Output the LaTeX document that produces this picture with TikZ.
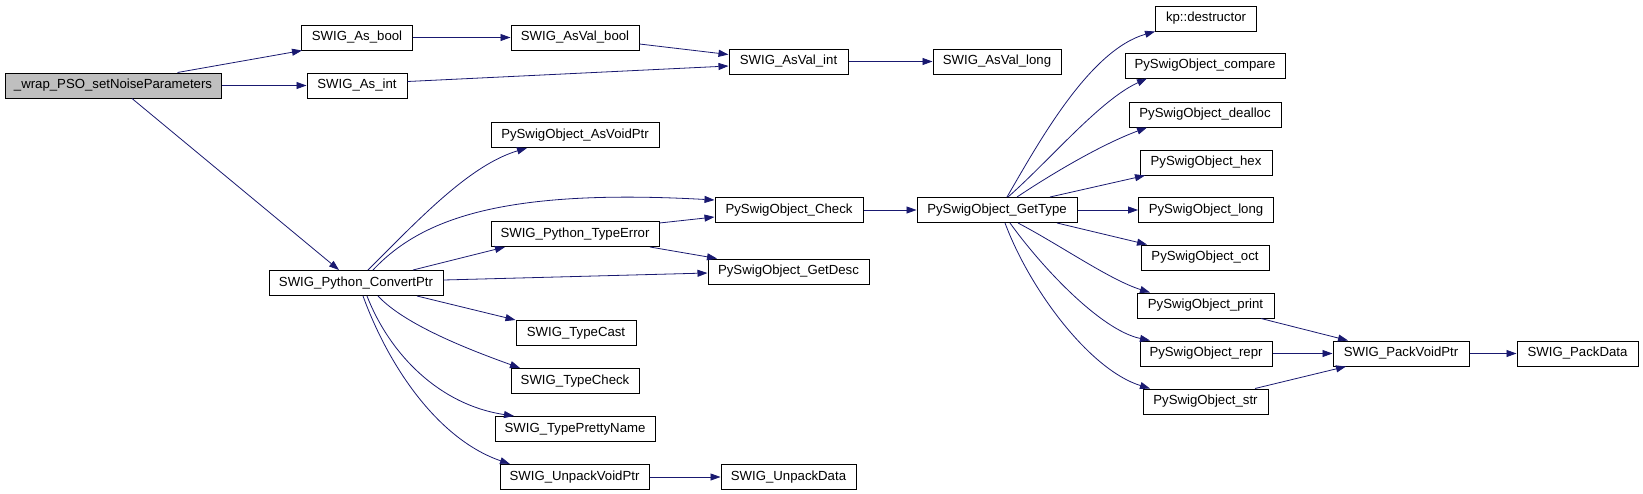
\documentclass[tikz,border=0pt]{standalone}
\usepackage{fontspec}
\setmainfont{Liberation Sans}
\usetikzlibrary{arrows.meta}
\definecolor{edgeblue}{RGB}{25,25,112}
\definecolor{mainfill}{RGB}{191,191,191}
\tikzset{
  box/.style={draw=black, line width=1pt, rectangle, inner sep=0pt, minimum height=25pt, fill=white,
    font=\fontsize{13.2}{15}\selectfont},
  mainbox/.style={box, fill=mainfill},
  edge/.style={draw=edgeblue, line width=0.8pt, -{Triangle[length=10pt,width=7pt]}},
}
\begin{document}
\begin{tikzpicture}[x=1pt,y=-1pt]
\useasboundingbox (0,0) rectangle (1643,493);
% nodes
\node[mainbox, minimum width=216pt] (main) at (113,85.5) {\_wrap\_PSO\_setNoiseParameters};
\node[box, minimum width=111pt] (asbool) at (357,37.5) {SWIG\_As\_bool};
\node[box, minimum width=100pt] (asint) at (357,85.5) {SWIG\_As\_int};
\node[box, minimum width=174pt] (cp) at (356,283) {SWIG\_Python\_ConvertPtr};
\node[box, minimum width=128pt] (avbool) at (575,37.5) {SWIG\_AsVal\_bool};
\node[box, minimum width=168pt] (avoid) at (575,135) {PySwigObject\_AsVoidPtr};
\node[box, minimum width=168pt] (terr) at (575,234) {SWIG\_Python\_TypeError};
\node[box, minimum width=120pt] (tcast) at (576,333) {SWIG\_TypeCast};
\node[box, minimum width=128pt] (tcheck) at (575,381) {SWIG\_TypeCheck};
\node[box, minimum width=160pt] (tpretty) at (575,429) {SWIG\_TypePrettyName};
\node[box, minimum width=149pt] (unpvp) at (574.5,477) {SWIG\_UnpackVoidPtr};
\node[box, minimum width=119pt] (avint) at (788.5,61.5) {SWIG\_AsVal\_int};
\node[box, minimum width=148pt] (check) at (789,210) {PySwigObject\_Check};
\node[box, minimum width=161pt] (desc) at (788.5,271.5) {PySwigObject\_GetDesc};
\node[box, minimum width=135pt] (unpd) at (788.5,477) {SWIG\_UnpackData};
\node[box, minimum width=128pt] (avlong) at (997,61.5) {SWIG\_AsVal\_long};
\node[box, minimum width=160pt] (gettype) at (997,210) {PySwigObject\_GetType};
\node[box, minimum width=101pt] (kpd) at (1206,18.5) {kp::destructor};
\node[box, minimum width=160pt] (cmp) at (1205,65.5) {PySwigObject\_compare};
\node[box, minimum width=152pt] (dealloc) at (1205,114.5) {PySwigObject\_dealloc};
\node[box, minimum width=132pt] (hex) at (1206,162.5) {PySwigObject\_hex};
\node[box, minimum width=135pt] (long) at (1206,210) {PySwigObject\_long};
\node[box, minimum width=128pt] (oct) at (1205,257.5) {PySwigObject\_oct};
\node[box, minimum width=137pt] (print) at (1205.5,305.5) {PySwigObject\_print};
\node[box, minimum width=132pt] (repr) at (1206,353.5) {PySwigObject\_repr};
\node[box, minimum width=125pt] (str) at (1205.5,401.5) {PySwigObject\_str};
\node[box, minimum width=136pt] (packvp) at (1401,353.5) {SWIG\_PackVoidPtr};
\node[box, minimum width=121pt] (packd) at (1577.5,353.5) {SWIG\_PackData};
% edges
\draw[edge] ([xshift=64.5pt]main.north) -- ([xshift=1pt]asbool.south west);
\draw[edge] (main) -- (asint);
\draw[edge] ([xshift=19pt]main.south) -- ([xshift=-17pt]cp.north);
\draw[edge] (asbool) -- (avbool);
\draw[edge] ([yshift=-6.5pt]avbool.east) -- ([yshift=7pt]avint.west);
\draw[edge] ([yshift=4pt]asint.east) -- ([yshift=-4.5pt]avint.west);
\draw[edge] (avint) -- (avlong);
\draw[edge] ([xshift=12pt]cp.north) .. controls (420,218) and (470,165) .. ([xshift=-48pt]avoid.south);
\draw[edge] ([xshift=17pt]cp.north) .. controls (420,220) and (500,188) .. ([yshift=10pt]check.west);
\draw[edge] ([xshift=57pt]cp.north) -- ([xshift=-70pt]terr.south);
\draw[edge] ([yshift=3pt]cp.east) -- ([yshift=-1.5pt]desc.west);
\draw[edge] ([yshift=11pt]terr.east) -- ([yshift=-7pt]check.west);
\draw[edge] ([xshift=75pt]terr.south) -- ([xshift=-71.5pt]desc.north);
\draw[edge] (check) -- (gettype);
\draw[edge] ([xshift=61pt]cp.south) -- (tcast.north west);
\draw[edge] ([xshift=22pt]cp.south) .. controls (405,325) and (470,350) .. ([xshift=-55pt]tcheck.north);
\draw[edge] ([xshift=11pt]cp.south) .. controls (390,355) and (440,405) .. ([xshift=-61pt]tpretty.north);
\draw[edge] ([xshift=7pt]cp.south) .. controls (390,370) and (440,440) .. ([xshift=-64.5pt]unpvp.north);
\draw[edge] (unpvp) -- (unpd);
% GetType fan
\draw[edge] ([xshift=10pt]gettype.north) .. controls (1040,140) and (1090,50) .. (kpd.south west);
\draw[edge] ([xshift=11pt]gettype.north) .. controls (1050,160) and (1100,100) .. ([xshift=-58pt]cmp.south);
\draw[edge] ([xshift=20pt]gettype.north) .. controls (1050,175) and (1100,145) .. ([xshift=-58pt]dealloc.south);
\draw[edge] ([xshift=53pt]gettype.north) -- ([xshift=-61pt]hex.south);
\draw[edge] (gettype) -- (long);
\draw[edge] ([xshift=60pt]gettype.south) -- ([xshift=-58pt]oct.north);
\draw[edge] ([xshift=21pt]gettype.south) .. controls (1060,245) and (1110,280) .. ([xshift=-55.5pt]print.north);
\draw[edge] ([xshift=13pt]gettype.south) .. controls (1040,265) and (1100,330) .. ([xshift=-56pt]repr.north);
\draw[edge] ([xshift=8pt]gettype.south) .. controls (1030,290) and (1090,370) .. ([xshift=-55.5pt]str.north);
\draw[edge] ([xshift=55.5pt]print.south) -- ([xshift=-53pt]packvp.north);
\draw[edge] (repr) -- (packvp);
\draw[edge] ([xshift=49.5pt]str.north) -- ([xshift=-55pt]packvp.south);
\draw[edge] (packvp) -- (packd);
\end{tikzpicture}
\end{document}
